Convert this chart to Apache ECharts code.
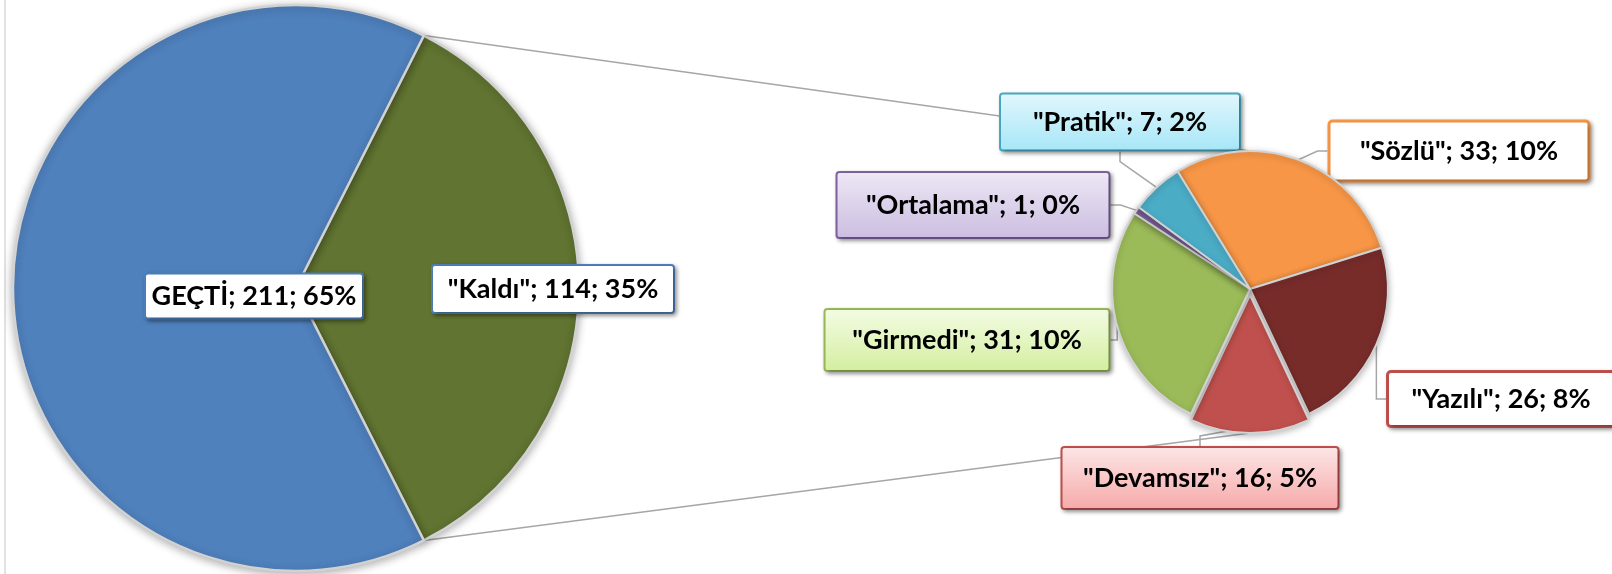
<!DOCTYPE html>
<html>
<head>
<meta charset="utf-8">
<script src="https://cdn.jsdelivr.net/npm/echarts@6/dist/echarts.min.js"></script>
<style>
  html, body { margin: 0; padding: 0; background: #fff; }
  #chart { width: 1612px; height: 574px; }
</style>
</head>
<body>
<div id="chart"></div>
<script>
// ana pasta: geçen / kalan
const mainNames = ['"Kaldı"', 'GEÇTİ']
const mainValues = [114, 211]

// kalanların dağılımı (ikinci pasta, saat yönünde)
const subNames = ['"Sözlü"', '"Yazılı"', '"Devamsız"', '"Girmedi"', '"Ortalama"', '"Pratik"']
const subValues = [33, 26, 16, 31, 1, 7]

const total = mainValues.reduce((a, b) => a + b, 0)
const subTotal = subValues.reduce((a, b) => a + b, 0)

const FONT = 'Lato, "DejaVu Sans Condensed", sans-serif'
const LINE_H = 32
const EXPLODE = 6
const grad = (c0, c1) => new echarts.graphic.LinearGradient(0, 0, 0, 1, [
  { offset: 0, color: c0 },
  { offset: 1, color: c1 }
])

// stil: renk, kutu, etiket merkezi ve kutu boyutu
const mainStyle = {
  '"Kaldı"': { color: '#617431', pos: [553, 289], size: [240, 46] },
  'GEÇTİ': { color: '#4f81bd', pos: [254, 296], size: [216, 43] }
}
const subStyle = {
  '"Sözlü"': { color: '#f79646', bg: '#ffffff', border: '#f79646', bw: 3, pos: [1459, 151], size: [257, 57] },
  '"Yazılı"': { color: '#772c2a', bg: '#ffffff', border: '#c0504d', bw: 3, pos: [1501, 399], size: [224, 52] },
  '"Devamsız"': { color: '#c0504d', bg: grad('#fde6e6', '#f6a9a9'), border: '#c0504d', bw: 2, pos: [1200, 478], size: [275, 60] },
  '"Girmedi"': { color: '#9bbb59', bg: grad('#f4fce4', '#d3eea0'), border: '#9bbb59', bw: 2, pos: [967, 340], size: [283, 60] },
  '"Ortalama"': { color: '#8064a2', bg: grad('#eee8f6', '#cbbde0'), border: '#8064a2', bw: 2, pos: [973, 205], size: [271, 64] },
  '"Pratik"': { color: '#4bacc6', bg: grad('#e2f7fd', '#a6e6f7'), border: '#4bacc6', bw: 2, pos: [1120, 122], size: [238, 55] }
}

const fmt = (p) => `${p.name}; ${p.value}; ${Math.round(p.value / total * 100)}%`

const boxLabel = (size) => {
  const pv = (size[1] - LINE_H) / 2
  return { width: size[0], padding: [pv, 0, pv, 0] }
}

const labelBase = {
  fontFamily: FONT,
  fontSize: 27,
  fontWeight: 'bold',
  color: '#000',
  lineHeight: LINE_H,
  align: 'center',
  borderRadius: 2,
  shadowColor: 'rgba(0,0,0,0.35)',
  shadowBlur: 4,
  shadowOffsetX: 2,
  shadowOffsetY: 2,
  formatter: fmt
}

const mainData = mainNames.map((name, i) => ({
  name,
  value: mainValues[i],
  itemStyle: { color: mainStyle[name].color },
  label: boxLabel(mainStyle[name].size)
}))

// görünen dilimler (Devamsız dışarı çekik)
const subSlices = subNames.map((name, i) => ({
  name,
  value: subValues[i],
  selected: name === '"Devamsız"',
  itemStyle: { color: subStyle[name].color }
}))

// etiketler ayrı, şeffaf bir katmanda
const subLabels = subNames.map((name, i) => {
  const s = subStyle[name]
  return {
    name,
    value: subValues[i],
    label: Object.assign(boxLabel(s.size), { backgroundColor: s.bg, borderColor: s.border, borderWidth: s.bw })
  }
})

// ikinci pastada Devamsız dilimi alta ortalansın
const before = subValues[0] + subValues[1] + subValues[2] / 2
const subStart = before / subTotal * 360 - 90

const placeLabel = (styles) => (p) => {
  const pos = styles[p.text.split(';')[0]].pos
  return { x: pos[0], y: pos[1], align: 'center', verticalAlign: 'middle' }
}

const SUB_CENTER = [1250, 289]
const SUB_R = 138

const chart = echarts.init(document.getElementById('chart'))

const option = {
  animation: false,
  backgroundColor: '#fff',
  series: [
    {
      type: 'pie',
      center: [296, 288],
      radius: 283,
      startAngle: mainValues[0] / total * 180,
      clockwise: true,
      data: mainData,
      itemStyle: {
        borderColor: '#d2d2d2',
        borderWidth: 2.5,
        shadowBlur: 8,
        shadowColor: 'rgba(0,0,0,0.3)',
        shadowOffsetY: 2
      },
      label: Object.assign({}, labelBase, {
        position: 'inside',
        backgroundColor: '#fff',
        borderColor: '#4f81bd',
        borderWidth: 2
      }),
      labelLine: { show: false },
      labelLayout: placeLabel(mainStyle),
      emphasis: { disabled: true }
    },
    {
      type: 'pie',
      z: 2,
      center: SUB_CENTER,
      radius: SUB_R,
      startAngle: subStart,
      clockwise: true,
      selectedMode: 'single',
      selectedOffset: EXPLODE,
      data: subSlices,
      itemStyle: {
        borderColor: '#d2d2d2',
        borderWidth: 2,
        shadowBlur: 6,
        shadowColor: 'rgba(0,0,0,0.25)',
        shadowOffsetY: 2
      },
      label: { show: false },
      labelLine: { show: false },
      emphasis: { disabled: true }
    },
    {
      type: 'pie',
      z: 1,
      silent: true,
      center: SUB_CENTER,
      radius: SUB_R,
      startAngle: subStart,
      clockwise: true,
      data: subLabels,
      itemStyle: { color: 'rgba(0,0,0,0)', borderWidth: 0 },
      label: Object.assign({}, labelBase, { position: 'outside' }),
      labelLine: {
        show: true,
        length: 10,
        length2: 10,
        lineStyle: { color: '#a6a6a6', width: 1.5 }
      },
      labelLayout: placeLabel(subStyle),
      emphasis: { disabled: true }
    }
  ]
}

chart.setOption(option)

// bağlantı çizgileri: Kaldı diliminin kenarlarından ikinci pastanın üst/alt noktasına
const mainLayout = chart.getModel().getSeriesByIndex(0).getData().getItemLayout(0)
const subLayout = chart.getModel().getSeriesByIndex(1).getData().getItemLayout(0)
const edge = (a) => [mainLayout.cx + mainLayout.r * Math.cos(a), mainLayout.cy + mainLayout.r * Math.sin(a)]
const p1 = edge(mainLayout.startAngle)
const p2 = edge(mainLayout.endAngle)
const subTop = [subLayout.cx, subLayout.cy - subLayout.r]
const subBottom = [subLayout.cx, subLayout.cy + subLayout.r + EXPLODE]
const connStyle = { stroke: '#a6a6a6', lineWidth: 1.5 }

chart.setOption({
  graphic: [
    { type: 'line', z: 0, shape: { x1: 5, y1: 0, x2: 5, y2: 574 }, style: { stroke: '#d9d9d9', lineWidth: 1.5 } },
    { type: 'line', z: 0, shape: { x1: p1[0], y1: p1[1], x2: subTop[0], y2: subTop[1] }, style: connStyle },
    { type: 'line', z: 0, shape: { x1: p2[0], y1: p2[1], x2: subBottom[0], y2: subBottom[1] }, style: connStyle }
  ]
})

window.addEventListener('resize', () => chart.resize())
</script>
</body>
</html>
